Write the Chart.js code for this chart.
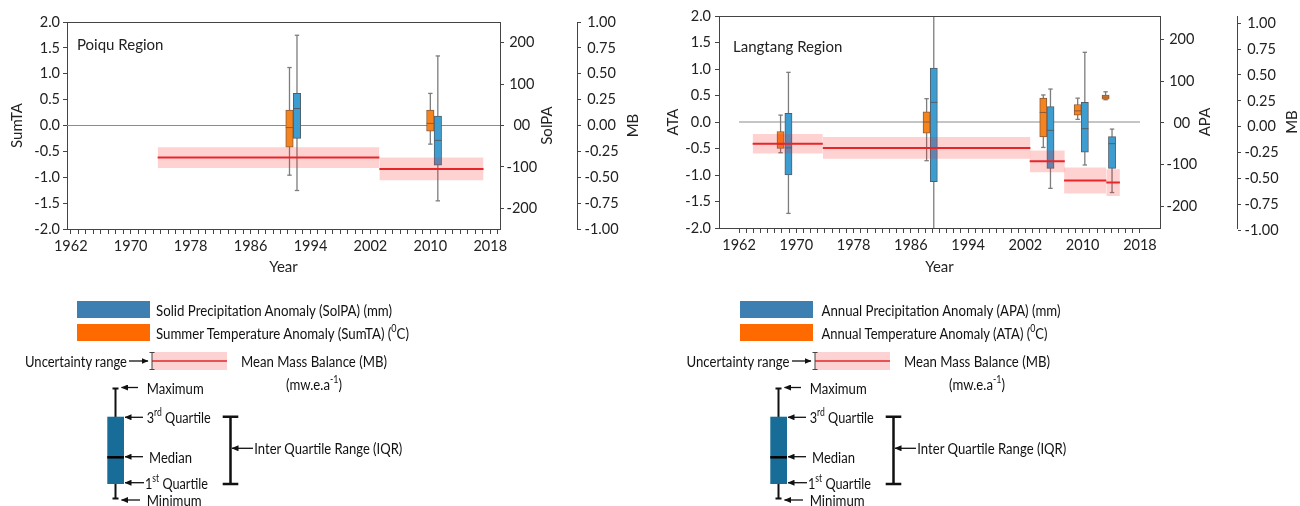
<!DOCTYPE html>
<html>
<head>
<meta charset="utf-8">
<title>Glacier mass balance and climate anomalies</title>
<script src="https://cdn.jsdelivr.net/npm/chart.js@4.4.1/dist/chart.umd.min.js"></script>
<style>
  html, body { margin: 0; padding: 0; background: #fff; }
  #page { position: relative; width: 1300px; height: 506px; overflow: hidden; }
  .panel { position: absolute; top: 0; width: 650px; height: 285px; }
  #legend { position: absolute; left: 0; top: 0; pointer-events: none; }
</style>
</head>
<body>
<div id="page">
  <div class="panel" style="left:0"><canvas id="poiqu" width="650" height="285"></canvas></div>
  <div class="panel" style="left:650px"><canvas id="langtang" width="650" height="285"></canvas></div>
  <svg id="legend" width="1300" height="506" xmlns="http://www.w3.org/2000/svg"></svg>
</div>
<script>
// ---------- data ----------
const yearLabels = [1962, 1970, 1978, 1986, 1994, 2002, 2010, 2018];
const poiquYearTicks = [];
for (let y = 1962; y <= 2019; y++) poiquYearTicks.push(y);
const langYearTicks = [];
for (let y = 1962; y <= 2018; y++) langYearTicks.push(y);

const tempTicks = [-2, -1.5, -1, -0.5, 0, 0.5, 1, 1.5, 2];
const precTicks = [-200, -100, 0, 100, 200];
const mbTicks = [-1, -0.75, -0.5, -0.25, 0, 0.25, 0.5, 0.75, 1];

// Poiqu: summer temperature anomaly (degC)
const poiquSumtaYear = [1991.2, 2010.0];
const poiquSumtaMin = [-0.96, -0.36];
const poiquSumtaQ1 = [-0.42, -0.11];
const poiquSumtaMedian = [-0.04, 0.04];
const poiquSumtaQ3 = [0.30, 0.30];
const poiquSumtaMax = [1.12, 0.62];
// Poiqu: solid precipitation anomaly (mm)
const poiquSolpaYear = [1992.2, 2011.0];
const poiquSolpaMin = [-157, -182];
const poiquSolpaQ1 = [-31, -96];
const poiquSolpaMedian = [41, -36];
const poiquSolpaQ3 = [78, 23];
const poiquSolpaMax = [218, 168];
// Poiqu: mean mass balance (m w.e. a-1)
const poiquMbStart = [1973.6, 2003.2];
const poiquMbEnd = [2003.2, 2017.1];
const poiquMb = [-0.31, -0.42];
const poiquMbErr = [0.10, 0.11];

// Langtang: annual temperature anomaly (degC)
const langAtaYear = [1967.8, 1988.2, 2004.5, 2009.3, 2013.2];
const langAtaMin = [-0.58, -0.73, -0.48, 0.05, 0.42];
const langAtaQ1 = [-0.50, -0.21, -0.28, 0.13, 0.43];
const langAtaMedian = [-0.42, 0.0, 0.18, 0.21, 0.47];
const langAtaQ3 = [-0.18, 0.19, 0.45, 0.33, 0.51];
const langAtaMax = [0.13, 0.44, 0.51, 0.45, 0.57];
// Langtang: annual precipitation anomaly (mm)
const langApaYear = [1968.9, 1989.2, 2005.5, 2010.3, 2014.1];
const langApaMin = [-217, -320, -157, -101, -167];
const langApaQ1 = [-125, -141, -109, -70, -109];
const langApaMedian = [-60, 49, -18, -14, -50];
const langApaQ3 = [23, 131, 39, 49, -33];
const langApaMax = [121, 320, 81, 169, -15];
// Langtang: mean mass balance
const langMbStart = [1963.9, 1973.7, 2002.6, 2007.4, 2013.3];
const langMbEnd = [1973.7, 2002.7, 2007.5, 2013.3, 2015.2];
const langMb = [-0.165, -0.205, -0.335, -0.52, -0.54];
const langMbErr = [0.095, 0.105, 0.105, 0.125, 0.13];

// ---------- chart helpers ----------
const FONT = 'Lato';
const axisColor = '#444';
const textColor = '#222';
const tickFont = {family: FONT, size: 14.5};

function addBoxes(ds, s, axis, fill, edge, barW) {
  // whiskers with caps
  ds.push({
    type: 'line', yAxisID: axis,
    data: s.x.flatMap((x, i) => [{x, y: s.min[i]}, {x, y: s.max[i]}, {x, y: null}]),
    borderColor: '#7d7d7d', borderWidth: 1.3, spanGaps: false,
    pointStyle: 'line', pointRadius: 2.2, pointBorderColor: '#7d7d7d', pointBorderWidth: 1.3,
    order: 15
  });
  // interquartile box
  ds.push({
    type: 'bar', yAxisID: axis,
    data: s.x.map((x, i) => ({x, y: [s.q1[i], s.q3[i]]})),
    backgroundColor: fill, borderColor: edge, borderWidth: 1, borderSkipped: false,
    barThickness: barW, grouped: false, order: 12
  });
  // median
  ds.push({
    type: 'line', yAxisID: axis, showLine: false,
    data: s.x.map((x, i) => ({x, y: s.med[i]})),
    pointStyle: 'line', pointRadius: barW / 2, pointBorderColor: edge, pointBorderWidth: 1,
    order: 11
  });
}

function yAxis(o) {
  return {
    type: 'linear', position: o.pos, min: o.min, max: o.max, bounds: 'data',
    afterBuildTicks: a => { a.ticks = o.ticks.map(v => ({value: v})); },
    afterFit: a => { a.width = o.width; },
    grid: {drawOnChartArea: false, drawTicks: true, tickLength: 4, color: axisColor},
    border: {display: true, color: axisColor, width: 1},
    ticks: {autoSkip: false, padding: o.pad, color: textColor, font: tickFont,
            crossAlign: o.cross || 'near', callback: o.fmt},
    title: o.title ? {display: true, text: o.title, color: textColor, font: {family: FONT, size: 15},
                      padding: {top: o.titlePad, bottom: 0}} : {display: false}
  };
}

const decorPlugin = {
  id: 'decor',
  afterDraw(chart, args, opts) {
    const {ctx, chartArea: a, scales} = chart;
    ctx.save();
    ctx.strokeStyle = axisColor;
    ctx.lineWidth = 1;
    ctx.beginPath();
    ctx.moveTo(a.left, Math.round(a.top) + 0.5);
    ctx.lineTo(a.right, Math.round(a.top) + 0.5);
    ctx.stroke();
    ctx.fillStyle = textColor;
    ctx.font = '15px ' + FONT;
    ctx.textBaseline = 'middle';
    ctx.textAlign = 'left';
    ctx.fillText(opts.region, a.left + opts.regionDx, a.top + opts.regionDy);
    // right-hand axis titles read bottom-to-top
    opts.titles.forEach(t => {
      const s = scales[t.axis];
      ctx.save();
      ctx.translate(s.right - t.off, (a.top + a.bottom) / 2);
      ctx.rotate(-Math.PI / 2);
      ctx.textAlign = 'center';
      ctx.fillText(t.text, 0, 0);
      ctx.restore();
    });
    ctx.restore();
  }
};

function buildChart(id, p) {
  const ds = [];
  ds.push({type: 'line', yAxisID: 'y', data: p.zero.map(x => ({x, y: 0})),
           borderColor: '#8c8c8c', borderWidth: 1.2, pointRadius: 0, order: 30});
  addBoxes(ds, p.temp, 'y', '#f5841f', '#8a5a3a', p.barW);
  addBoxes(ds, p.prec, 'yp', '#3e9dd0', '#4f5f6a', p.barW);
  p.mb.start.forEach((s, i) => {
    const e = p.mb.end[i], m = p.mb.val[i], u = p.mb.err[i];
    ds.push({type: 'line', yAxisID: 'mb', data: [{x: s, y: m + u}, {x: e, y: m + u}],
             borderColor: 'rgba(0,0,0,0)', borderWidth: 0, pointRadius: 0,
             fill: '+1', backgroundColor: 'rgba(255,30,30,0.2)', order: 5});
    ds.push({type: 'line', yAxisID: 'mb', data: [{x: s, y: m - u}, {x: e, y: m - u}],
             borderColor: 'rgba(0,0,0,0)', borderWidth: 0, pointRadius: 0, fill: false, order: 5});
  });
  ds.push({type: 'line', yAxisID: 'mb',
           data: p.mb.start.flatMap((s, i) => [{x: s, y: p.mb.val[i]}, {x: p.mb.end[i], y: p.mb.val[i]}, {x: p.mb.end[i], y: null}]),
           borderColor: '#e8262a', borderWidth: 2, pointRadius: 0, spanGaps: false, order: 1});

  return new Chart(document.getElementById(id), {
    type: 'bar',
    data: {datasets: ds},
    plugins: [decorPlugin],
    options: {
      responsive: false, animation: false, events: [],
      layout: {padding: {left: 0, right: 0, top: p.top, bottom: 0}},
      plugins: {
        legend: {display: false}, tooltip: {enabled: false},
        decor: {region: p.region, regionDx: p.regionDx, regionDy: p.regionDy, titles: p.rightTitles}
      },
      scales: {
        x: {
          type: 'linear', position: 'bottom', min: p.xMin, max: p.xMax, bounds: 'data', offset: false,
          afterBuildTicks: a => { a.ticks = p.yearTicks.map(v => ({value: v})); },
          afterFit: a => { a.height = p.xHeight; },
          grid: {drawOnChartArea: false, drawTicks: true, tickLength: 5, color: axisColor, offset: false},
          border: {display: true, color: axisColor, width: 1},
          ticks: {autoSkip: false, maxRotation: 0, minRotation: 0, padding: 4, color: textColor,
                  font: tickFont,
                  callback: v => yearLabels.includes(v) ? String(v) : ''},
          title: {display: true, text: 'Year', color: textColor, font: {family: FONT, size: 15},
                  padding: {top: 0, bottom: p.yearPad}}
        },
        y: yAxis({pos: 'left', min: -2, max: 2, ticks: tempTicks, width: p.leftW, pad: p.leftPad,
                  fmt: v => v.toFixed(1), title: p.tempLabel, titlePad: p.leftTitlePad}),
        yp: yAxis({pos: 'right', min: p.precMin, max: p.precMax, ticks: precTicks, width: 77, pad: 2.5,
                   cross: 'center', fmt: v => v === 0 ? '00' : String(v)}),
        mb: yAxis({pos: 'right', min: p.mbMin, max: p.mbMax, ticks: mbTicks, width: p.mbW, pad: 3.5,
                   cross: 'center', fmt: v => v.toFixed(2)})
      }
    }
  });
}

function draw() {
  buildChart('poiqu', {
    region: 'Poiqu Region', regionDx: 10, regionDy: 23,
    xMin: 1961.5, xMax: 2019.3, yearTicks: poiquYearTicks, zero: [1961.5, 2019.3],
    top: 22, xHeight: 56, yearPad: 9, leftW: 67, leftPad: 3, leftTitlePad: 7.7, mbW: 73,
    precMin: -250, precMax: 250, mbMin: -1, mbMax: 1, barW: 7.5,
    tempLabel: 'SumTA',
    rightTitles: [{axis: 'yp', text: 'SolPA', off: 30.3}, {axis: 'mb', text: 'MB', off: 17}],
    temp: {x: poiquSumtaYear, min: poiquSumtaMin, q1: poiquSumtaQ1, med: poiquSumtaMedian, q3: poiquSumtaQ3, max: poiquSumtaMax},
    prec: {x: poiquSolpaYear, min: poiquSolpaMin, q1: poiquSolpaQ1, med: poiquSolpaMedian, q3: poiquSolpaQ3, max: poiquSolpaMax},
    mb: {start: poiquMbStart, end: poiquMbEnd, val: poiquMb, err: poiquMbErr}
  });
  buildChart('langtang', {
    region: 'Langtang Region', regionDx: 14, regionDy: 31,
    xMin: 1959.2, xMax: 2020.8, yearTicks: langYearTicks, zero: [1962, 2018],
    top: 16, xHeight: 57, yearPad: 9.3, leftW: 69, leftPad: 4, leftTitlePad: 14.3, mbW: 63,
    precMin: -252, precMax: 256, mbMin: -0.979, mbMax: 1.07, barW: 7.2,
    tempLabel: 'ATA',
    rightTitles: [{axis: 'yp', text: 'APA', off: 32}, {axis: 'mb', text: 'MB', off: 8}],
    temp: {x: langAtaYear, min: langAtaMin, q1: langAtaQ1, med: langAtaMedian, q3: langAtaQ3, max: langAtaMax},
    prec: {x: langApaYear, min: langApaMin, q1: langApaQ1, med: langApaMedian, q3: langApaQ3, max: langApaMax},
    mb: {start: langMbStart, end: langMbEnd, val: langMb, err: langMbErr}
  });
}

// ---------- legend (explanatory key under each panel) ----------
const SUP = (s) => `<tspan dy="-5" font-size="10.5">${s}</tspan><tspan dy="5">`;
const legendPanels = [
  {dx: 0, textX: 156, uncEnd: 127,
   precText: 'Solid Precipitation Anomaly (SolPA) (mm)', precLen: 236,
   tempText: `Summer Temperature Anomaly (SumTA) (${SUP('0')}C)</tspan>`, tempLen: 253,
   uncLen: 102, mmbLen: 146, iqrLen: 148},
  {dx: 663, textX: 821.5, uncEnd: 789.5,
   precText: 'Annual Precipitation Anomaly (APA) (mm)', precLen: 239,
   tempText: `Annual Temperature Anomaly (ATA) (${SUP('0')}C)</tspan>`, tempLen: 226,
   uncLen: 103, mmbLen: 146, iqrLen: 149}
];

function svgText(x, y, markup, len, anchor) {
  return `<text x="${x}" y="${y}" dominant-baseline="central" font-family="Lato" font-size="15.5" fill="#111"` +
         (anchor ? ` text-anchor="${anchor}"` : '') +
         (len ? ` textLength="${len}" lengthAdjust="spacingAndGlyphs"` : '') + `>${markup}</text>`;
}
function arrow(x1, x2, y) {
  return `<line x1="${x1}" y1="${y}" x2="${x2}" y2="${y}" stroke="#111" stroke-width="1.3" marker-end="url(#ah)"/>`;
}
function drawLegend() {
  let out = `<defs><marker id="ah" markerWidth="7" markerHeight="6" refX="6.5" refY="3" orient="auto" markerUnits="userSpaceOnUse">` +
            `<path d="M0,0 L7,3 L0,6 z" fill="#111"/></marker></defs>`;
  legendPanels.forEach(p => {
    const d = p.dx;
    out += `<rect x="${77 + d}" y="301" width="73" height="17" fill="#3e7fb1"/>`;
    out += svgText(p.textX, 310, p.precText, p.precLen);
    out += `<rect x="${77 + d}" y="324" width="73" height="17" fill="#ff6a00"/>`;
    out += svgText(p.textX, 333, p.tempText, p.tempLen);
    // uncertainty range + mean mass balance
    out += svgText(p.uncEnd, 361, 'Uncertainty range', p.uncLen, 'end');
    out += arrow(129 + d, 148 + d, 361);
    out += `<rect x="${152 + d}" y="352" width="75" height="18" fill="#fcd2d2"/>`;
    out += `<line x1="${152 + d}" y1="361" x2="${227 + d}" y2="361" stroke="#e02828" stroke-width="1.5"/>`;
    out += `<path d="M${149.5 + d},352.5 H${154.5 + d} M${152 + d},352.5 V369.5 M${149.5 + d},369.5 H${154.5 + d}" stroke="#444" stroke-width="1" fill="none"/>`;
    out += svgText(241 + d, 361, 'Mean Mass Balance (MB)', p.mmbLen);
    out += svgText(314 + d, 384, `(mw.e.a${SUP('-1')})</tspan>`, 56, 'middle');
    // box-plot key
    out += `<path d="M${112.5 + d},388.5 H${118.5 + d} M${115.5 + d},388.5 V417 M${115.5 + d},484 V498.5 M${112.5 + d},498.5 H${118.5 + d}" stroke="#111" stroke-width="2" fill="none"/>`;
    out += `<rect x="${107.3 + d}" y="416.7" width="16.7" height="67.3" fill="#186d98"/>`;
    out += `<line x1="${107.3 + d}" y1="457.3" x2="${124 + d}" y2="457.3" stroke="#000" stroke-width="2.5"/>`;
    out += arrow(138 + d, 121.5 + d, 387.5);
    out += svgText(146.7 + d, 387.5, 'Maximum', 57);
    out += arrow(143 + d, 125 + d, 417.3);
    out += svgText(146.7 + d, 417.3, `3${SUP('rd')} Quartile</tspan>`, 64);
    out += arrow(143 + d, 125 + d, 456.7);
    out += svgText(149 + d, 456.7, 'Median', 43);
    out += arrow(144 + d, 125 + d, 482.7);
    out += svgText(145 + d, 482.7, `1${SUP('st')} Quartile</tspan>`, 63);
    out += arrow(140 + d, 121.5 + d, 500);
    out += svgText(146.7 + d, 500, 'Minimum', 55);
    // IQR bracket
    out += `<path d="M${222.7 + d},416.7 H${238.3 + d} M${230.5 + d},416.7 V484 M${222.7 + d},484 H${238.3 + d}" stroke="#111" stroke-width="2.5" fill="none"/>`;
    out += arrow(253 + d, 232 + d, 448.3);
    out += svgText(254.3 + d, 448.3, 'Inter Quartile Range (IQR)', p.iqrLen);
  });
  document.getElementById('legend').innerHTML = out;
}

drawLegend();
if (document.fonts && document.fonts.load) {
  document.fonts.load('14px Lato').then(draw, draw);
} else {
  draw();
}
</script>
</body>
</html>
